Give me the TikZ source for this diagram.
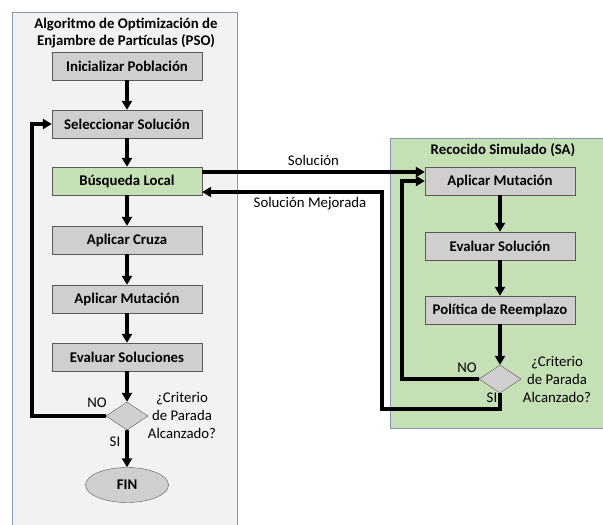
\documentclass[tikz,border=0pt]{standalone}
\usepackage{fontspec}
\setmainfont{Carlito}
\usetikzlibrary{arrows.meta,shapes.geometric,positioning}
\definecolor{panelgray}{HTML}{F2F2F2}
\definecolor{panelgreen}{HTML}{C5E0B4}
\definecolor{panelline}{HTML}{8497B0}
\definecolor{boxgray}{HTML}{D0CECE}
\definecolor{boxline}{HTML}{595959}
\begin{document}
\begin{tikzpicture}[x=1pt,y=-1pt,
  every node/.style={font=\fontsize{14.8}{18}\selectfont},
  proc/.style={draw=boxline,fill=boxgray,minimum width=150pt,minimum height=28pt,inner sep=0pt,font=\fontsize{14.8}{18}\selectfont\bfseries},
  decision/.style={diamond,draw=boxline,fill=boxgray,minimum width=42pt,minimum height=28pt,inner sep=0pt},
  flow/.style={line width=3.4pt,-{Triangle[width=10pt,length=9pt]}},
  note/.style={align=center}]
\useasboundingbox (0,0) rectangle (603,525);
% panels
\draw[draw=panelline,fill=panelgray] (12,12) rectangle (237,540);
\draw[draw=panelline,fill=panelgreen] (390,138) rectangle (610,428);
\node[note,font=\fontsize{14.8}{17}\selectfont\bfseries] (psoTitle) at (126,33) {Algoritmo de Optimización de\\Enjambre de Partículas (PSO)};
\node[font=\fontsize{14.8}{18}\selectfont\bfseries] (saTitle) at (503,150) {Recocido Simulado (SA)};
% PSO
\node[proc] (init) at (127,66) {Inicializar Población};
\node[proc] (sel) at (127,124) {Seleccionar Solución};
\node[proc,fill=panelgreen] (local) at (127,181) {Búsqueda Local};
\node[proc] (cruza) at (127,240) {Aplicar Cruza};
\node[proc] (mutPSO) at (127,299) {Aplicar Mutación};
\node[proc] (evalPSO) at (127,357) {Evaluar Soluciones};
\node[decision] (stopPSO) at (127,416) {};
\node[ellipse,draw=boxline,fill=boxgray,minimum width=83pt,minimum height=35pt,font=\fontsize{14.8}{18}\selectfont\bfseries] (fin) at (127,485) {FIN};
\node[note,font=\fontsize{14.8}{18}\selectfont] (critPSO) at (182,415) {¿Criterio\\de Parada\\Alcanzado?};
\node (noPSO) at (97,403) {NO};
\node (siPSO) at (115,442) {SI};
\coordinate (loopPSO) at (32,0);
\draw[flow] (init) -- (sel);
\draw[flow] (sel) -- (local);
\draw[flow] (local) -- (cruza);
\draw[flow] (cruza) -- (mutPSO);
\draw[flow] (mutPSO) -- (evalPSO);
\draw[flow] (evalPSO) -- (stopPSO);
\draw[flow] (stopPSO) -- (fin);
\draw[flow] (stopPSO.west) -- (stopPSO.west -| loopPSO) |- (sel.west);
% SA
\node[proc] (mutSA) at (500,181) {Aplicar Mutación};
\node[proc] (evalSA) at (500,246) {Evaluar Solución};
\node[proc] (reemp) at (500,310) {Política de Reemplazo};
\node[decision] (stopSA) at (500,379) {};
\node[note,font=\fontsize{14.8}{18}\selectfont] (critSA) at (557,379) {¿Criterio\\de Parada\\Alcanzado?};
\node (noSA) at (467,368) {NO};
\node (siSA) at (492,398) {SI};
\coordinate (loopSA) at (402,0);
\coordinate (backSA) at (382,409);
\draw[flow] (mutSA) -- (evalSA);
\draw[flow] (evalSA) -- (reemp);
\draw[flow] (reemp) -- (stopSA);
\draw[flow] (stopSA.west) -- (stopSA.west -| loopSA) |- (mutSA.west);
% between
\draw[flow] ([yshift=9pt]local.east) -- node[above=1pt] (solLbl) {Solución} ([yshift=9pt]mutSA.west);
\draw[flow] (stopSA.south) |- (backSA) |- ([yshift=-11pt]local.east);
\node (mejLbl) at (310,204) {Solución Mejorada};
\end{tikzpicture}
\end{document}
